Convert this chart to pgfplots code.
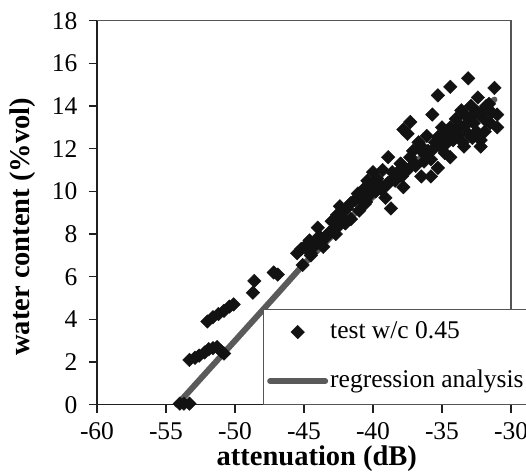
\documentclass[border=0pt]{standalone}
\usepackage{fontspec}
\setmainfont{Liberation Serif}
\usepackage{pgfplots}
\pgfplotsset{compat=1.18}
\definecolor{regcol}{HTML}{5A5A5A}
\definecolor{framecol}{HTML}{555555}
\begin{document}
\begin{tikzpicture}
\begin{axis}[
  scale only axis, width=414pt, height=384pt,
  xmin=-60, xmax=-30, ymin=0, ymax=18,
  axis x line*=bottom, axis y line*=left,
  axis line style={black!88, line width=1.2pt},
  xtick={-60,-55,-50,-45,-40,-35,-30},
  xticklabels={-60,-55,-50,-45,-40,-35,-30},
  ytick={0,2,4,6,8,10,12,14,16,18},
  yticklabels={0,2,4,6,8,10,12,14,16,18},
  tick align=outside,
  major tick length=8pt,
  tick style={black!88, line width=1.2pt},
  ticklabel style={font=\fontsize{25.5}{30}\selectfont},
  xticklabel style={anchor=base, yshift=-27pt},
  yticklabel style={anchor=east, xshift=-8pt},
  xlabel={\textbf{attenuation (dB)}},
  ylabel={\textbf{water content (\%vol)}},
  every axis x label/.style={at={(axis description cs:0.531,0)}, anchor=base, yshift=-61pt, font=\fontsize{28.5}{32}\selectfont},
  every axis y label/.style={at={(axis description cs:0,0.4635)}, anchor=center, rotate=90, yshift=74pt, font=\fontsize{28.5}{32}\selectfont},
  clip=false,
  reverse legend,
  legend image code/.code={\draw[mark repeat=2,mark phase=2,#1] plot coordinates {(0pt,0pt) (27.5pt,0pt) (55pt,0pt)};},
  legend cell align=left,
  legend style={at={(axis cs:-48,0)}, anchor=south west, draw=framecol, line width=1.2pt, fill=white,
    font=\fontsize{25.5}{30}\selectfont, inner xsep=4pt, inner ysep=12pt, row sep=27pt,
    nodes={inner xsep=2pt, inner ysep=0pt, text height=17pt, text depth=5pt}},
]
\draw[framecol, line width=1.2pt] (rel axis cs:0,1) -- (rel axis cs:1,1) -- (rel axis cs:1,0);
\addplot[regcol, line width=6pt, line cap=round, no marks] coordinates {
(-54.2,0) (-50,3.0) (-47,5.15) (-45,6.6) (-43,7.9) (-41.6,8.8) (-40,9.75) (-38,10.85) (-36,11.85) (-34,12.85) (-32,13.9) (-31.2,14.3)
};
\addlegendentry{regression analysis}
\addplot[only marks, mark=square*, mark size=4.8pt, mark options={rotate=45, fill=black!93, draw=black!93, line width=0.4pt}] coordinates {
(-54.0,0.05) (-53.7,0.05) (-53.3,0.05)
(-53.3,2.1) (-52.9,2.2) (-52.6,2.3) (-52.2,2.45) (-51.9,2.6) (-51.6,2.65) (-51.3,2.7) (-51.0,2.5) (-50.8,2.4)
(-52.0,3.9) (-51.6,4.1) (-51.2,4.25) (-50.8,4.4) (-50.4,4.6) (-50.1,4.7)
(-48.7,5.25) (-48.6,5.8)
(-47.2,6.2) (-46.9,6.1)
(-45.5,7.1) (-45.1,6.55) (-45.2,7.3) (-44.8,7.5) (-44.6,7.7) (-44.5,7.1) (-44.3,7.4) (-44.0,8.3) (-43.9,7.9) (-43.8,7.6) (-43.6,7.4) (-43.4,7.9) (-43.2,8.05) (-42.9,8.2) (-43.0,8.6) (-42.7,8.0)
(-42.6,8.9) (-42.4,9.3) (-42.4,9.0) (-42.1,8.7) (-42.0,8.5) (-41.9,9.2) (-41.6,8.7) (-41.6,9.45) (-41.3,9.6) (-41.1,9.9) (-40.9,9.75) (-40.7,10.1) (-40.6,9.4) (-40.4,10.5) (-40.3,9.8) (-40.1,10.3) (-40.0,10.9) (-39.8,10.0) (-39.7,10.6) (-39.5,10.3) (-39.4,10.1) (-39.3,11.0) (-39.1,9.7) (-38.9,11.6) (-38.9,10.4) (-38.7,9.2) (-38.6,10.9) (-38.4,10.5) (-38.2,10.9) (-38.0,11.3) (-37.8,10.2) (-37.8,12.9) (-37.5,12.7) (-37.5,11.0) (-37.3,11.6) (-37.3,13.25) (-37.1,11.9) (-36.9,11.2) (-36.7,12.3) (-36.5,12.1) (-36.5,10.7) (-36.5,11.9) (-36.3,11.4) (-36.1,12.6) (-35.8,11.5) (-35.8,10.7) (-35.7,13.6) (-35.5,12.3) (-35.3,12.55) (-35.3,11.1) (-35.3,14.5) (-35.1,12.1) (-35.0,13.0) (-34.8,11.8) (-34.7,12.7) (-34.4,14.9) (-34.4,13.0) (-34.4,11.6) (-34.2,12.4) (-34.0,13.4) (-33.8,12.9) (-33.6,13.8) (-33.5,12.3) (-33.4,12.1) (-33.2,13.5) (-33.1,15.3) (-33.1,12.7) (-32.9,14.0) (-32.7,13.2) (-32.5,12.8) (-32.4,14.4) (-32.3,13.6) (-32.2,12.1) (-32.2,12.4) (-32.0,13.8) (-31.8,13.3) (-31.6,14.1) (-31.5,13.2) (-31.2,14.85) (-31.0,13.0) (-31.0,13.6)
(-33.9,12.6) (-33.3,13.1) (-32.8,12.5) (-32.6,13.7) (-31.9,12.8) (-31.4,13.7) (-34.6,12.3) (-35.6,12.0) (-36.0,11.9)
(-40.5,9.5) (-39.0,10.3) (-37.0,11.3) (-36.2,11.7) (-35.0,12.4) (-34.3,12.7) (-33.7,13.1) (-33.0,13.4) (-32.4,13.7) (-31.8,14.0) (-37.9,10.7) (-38.5,10.6) (-41.0,9.1) (-42.5,8.4) (-43.5,7.8) (-44.5,7.0)
};
\addlegendentry{test w/c 0.45}
\end{axis}
\pgfresetboundingbox
\path ([shift={(-97pt,-70pt)}]current axis.south west) rectangle ([shift={(15pt,20.7pt)}]current axis.north east);
\end{tikzpicture}
\end{document}
